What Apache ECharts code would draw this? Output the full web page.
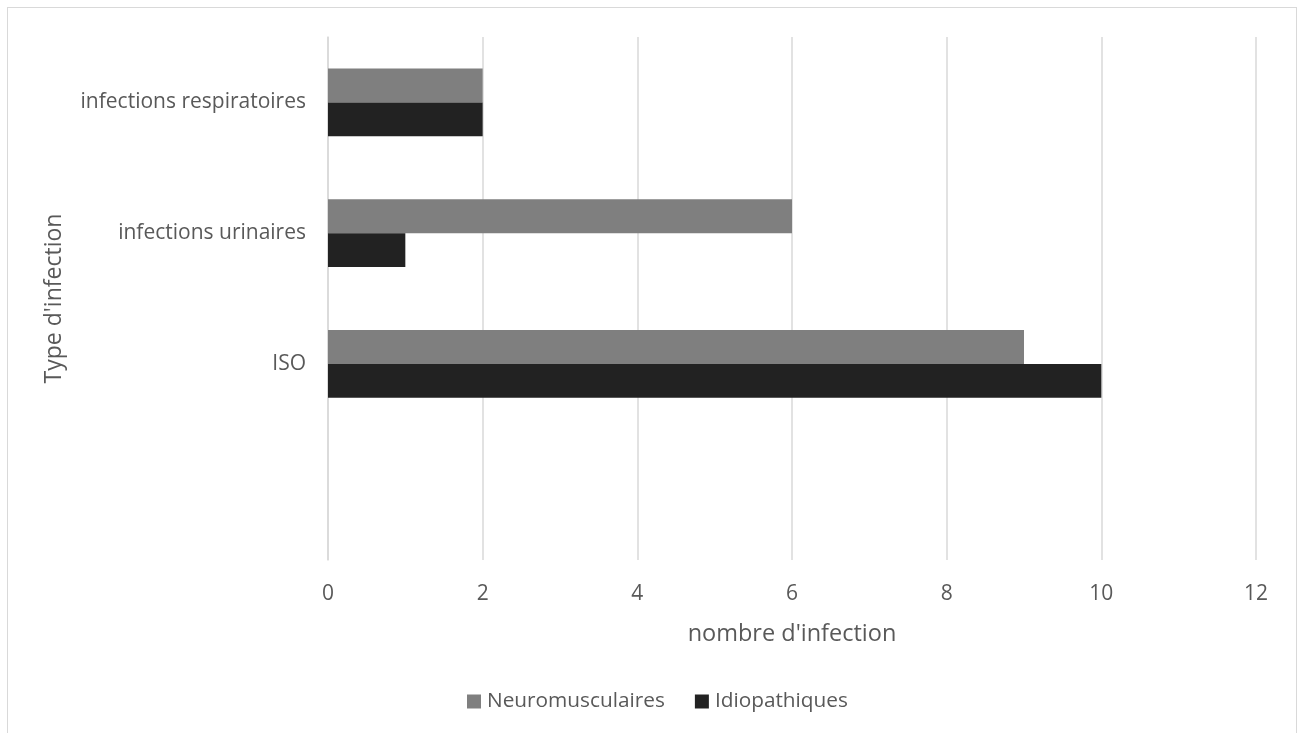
<!DOCTYPE html>
<html><head><meta charset="utf-8">
<script src="https://cdn.jsdelivr.net/npm/echarts@6/dist/echarts.min.js"></script>
<style>
html,body{margin:0;padding:0;background:#fff;}
#frame{position:absolute;left:7px;top:7px;width:1290px;height:740px;border:1.5px solid #d9d9d9;box-sizing:border-box;}
#c{position:absolute;left:0;top:0;width:1304px;height:733px;}
</style></head>
<body>
<div id="frame"></div>
<div id="c"></div>
<script>
const categories = ['infections respiratoires', 'infections urinaires', 'ISO', ''];
const neuromusculaires = [2, 6, 9, null];
const idiopathiques = [2, 1, 10, null];
const xTicks = [0, 2, 4, 6, 8, 10, 12];

const FONT = 'Open Sans';
const chart = echarts.init(document.getElementById('c'));
chart.setOption({
  backgroundColor: 'transparent',
  animation: false,
  textStyle: { fontFamily: FONT, color: '#595959' },
  grid: { left: 328, right: 48, top: 37, bottom: 173, containLabel: false },
  legend: {
    bottom: 16, left: 462,
    itemWidth: 14, itemHeight: 14, itemGap: 30,
    icon: 'rect',
    textStyle: { fontFamily: FONT, fontSize: 20.8, color: '#595959', padding: [0, 0, 0, 1] },
    data: ['Neuromusculaires', 'Idiopathiques']
  },
  xAxis: {
    type: 'value', min: 0, max: 12, interval: 2,
    name: "nombre d'infection", nameLocation: 'middle', nameGap: 62,
    nameTextStyle: { fontFamily: FONT, fontSize: 23.5, color: '#595959' },
    axisLine: { show: false }, axisTick: { show: false },
    axisLabel: { fontFamily: FONT, fontSize: 21, color: '#595959', margin: 24,
      formatter: v => xTicks.includes(v) ? String(v) : '' },
    splitLine: { show: true, lineStyle: { color: '#d9d9d9', width: 1.5 } }
  },
  yAxis: {
    type: 'category', data: categories, inverse: true,
    name: "Type d'infection", nameLocation: 'middle', nameGap: 262, nameRotate: 90,
    nameTextStyle: { fontFamily: FONT, fontSize: 23, color: '#595959' },
    axisLine: { show: true, lineStyle: { color: '#d9d9d9', width: 1.5 } },
    axisTick: { show: false },
    axisLabel: { fontFamily: FONT, fontSize: 21, color: '#595959', margin: 22 },
    splitLine: { show: false }
  },
  series: [
    { name: 'Neuromusculaires', type: 'bar', data: neuromusculaires,
      itemStyle: { color: '#7f7f7f' }, barGap: '0%', barCategoryGap: '48%' },
    { name: 'Idiopathiques', type: 'bar', data: idiopathiques,
      itemStyle: { color: '#222222' }, barGap: '0%', barCategoryGap: '48%' }
  ]
});
</script>
</body></html>
